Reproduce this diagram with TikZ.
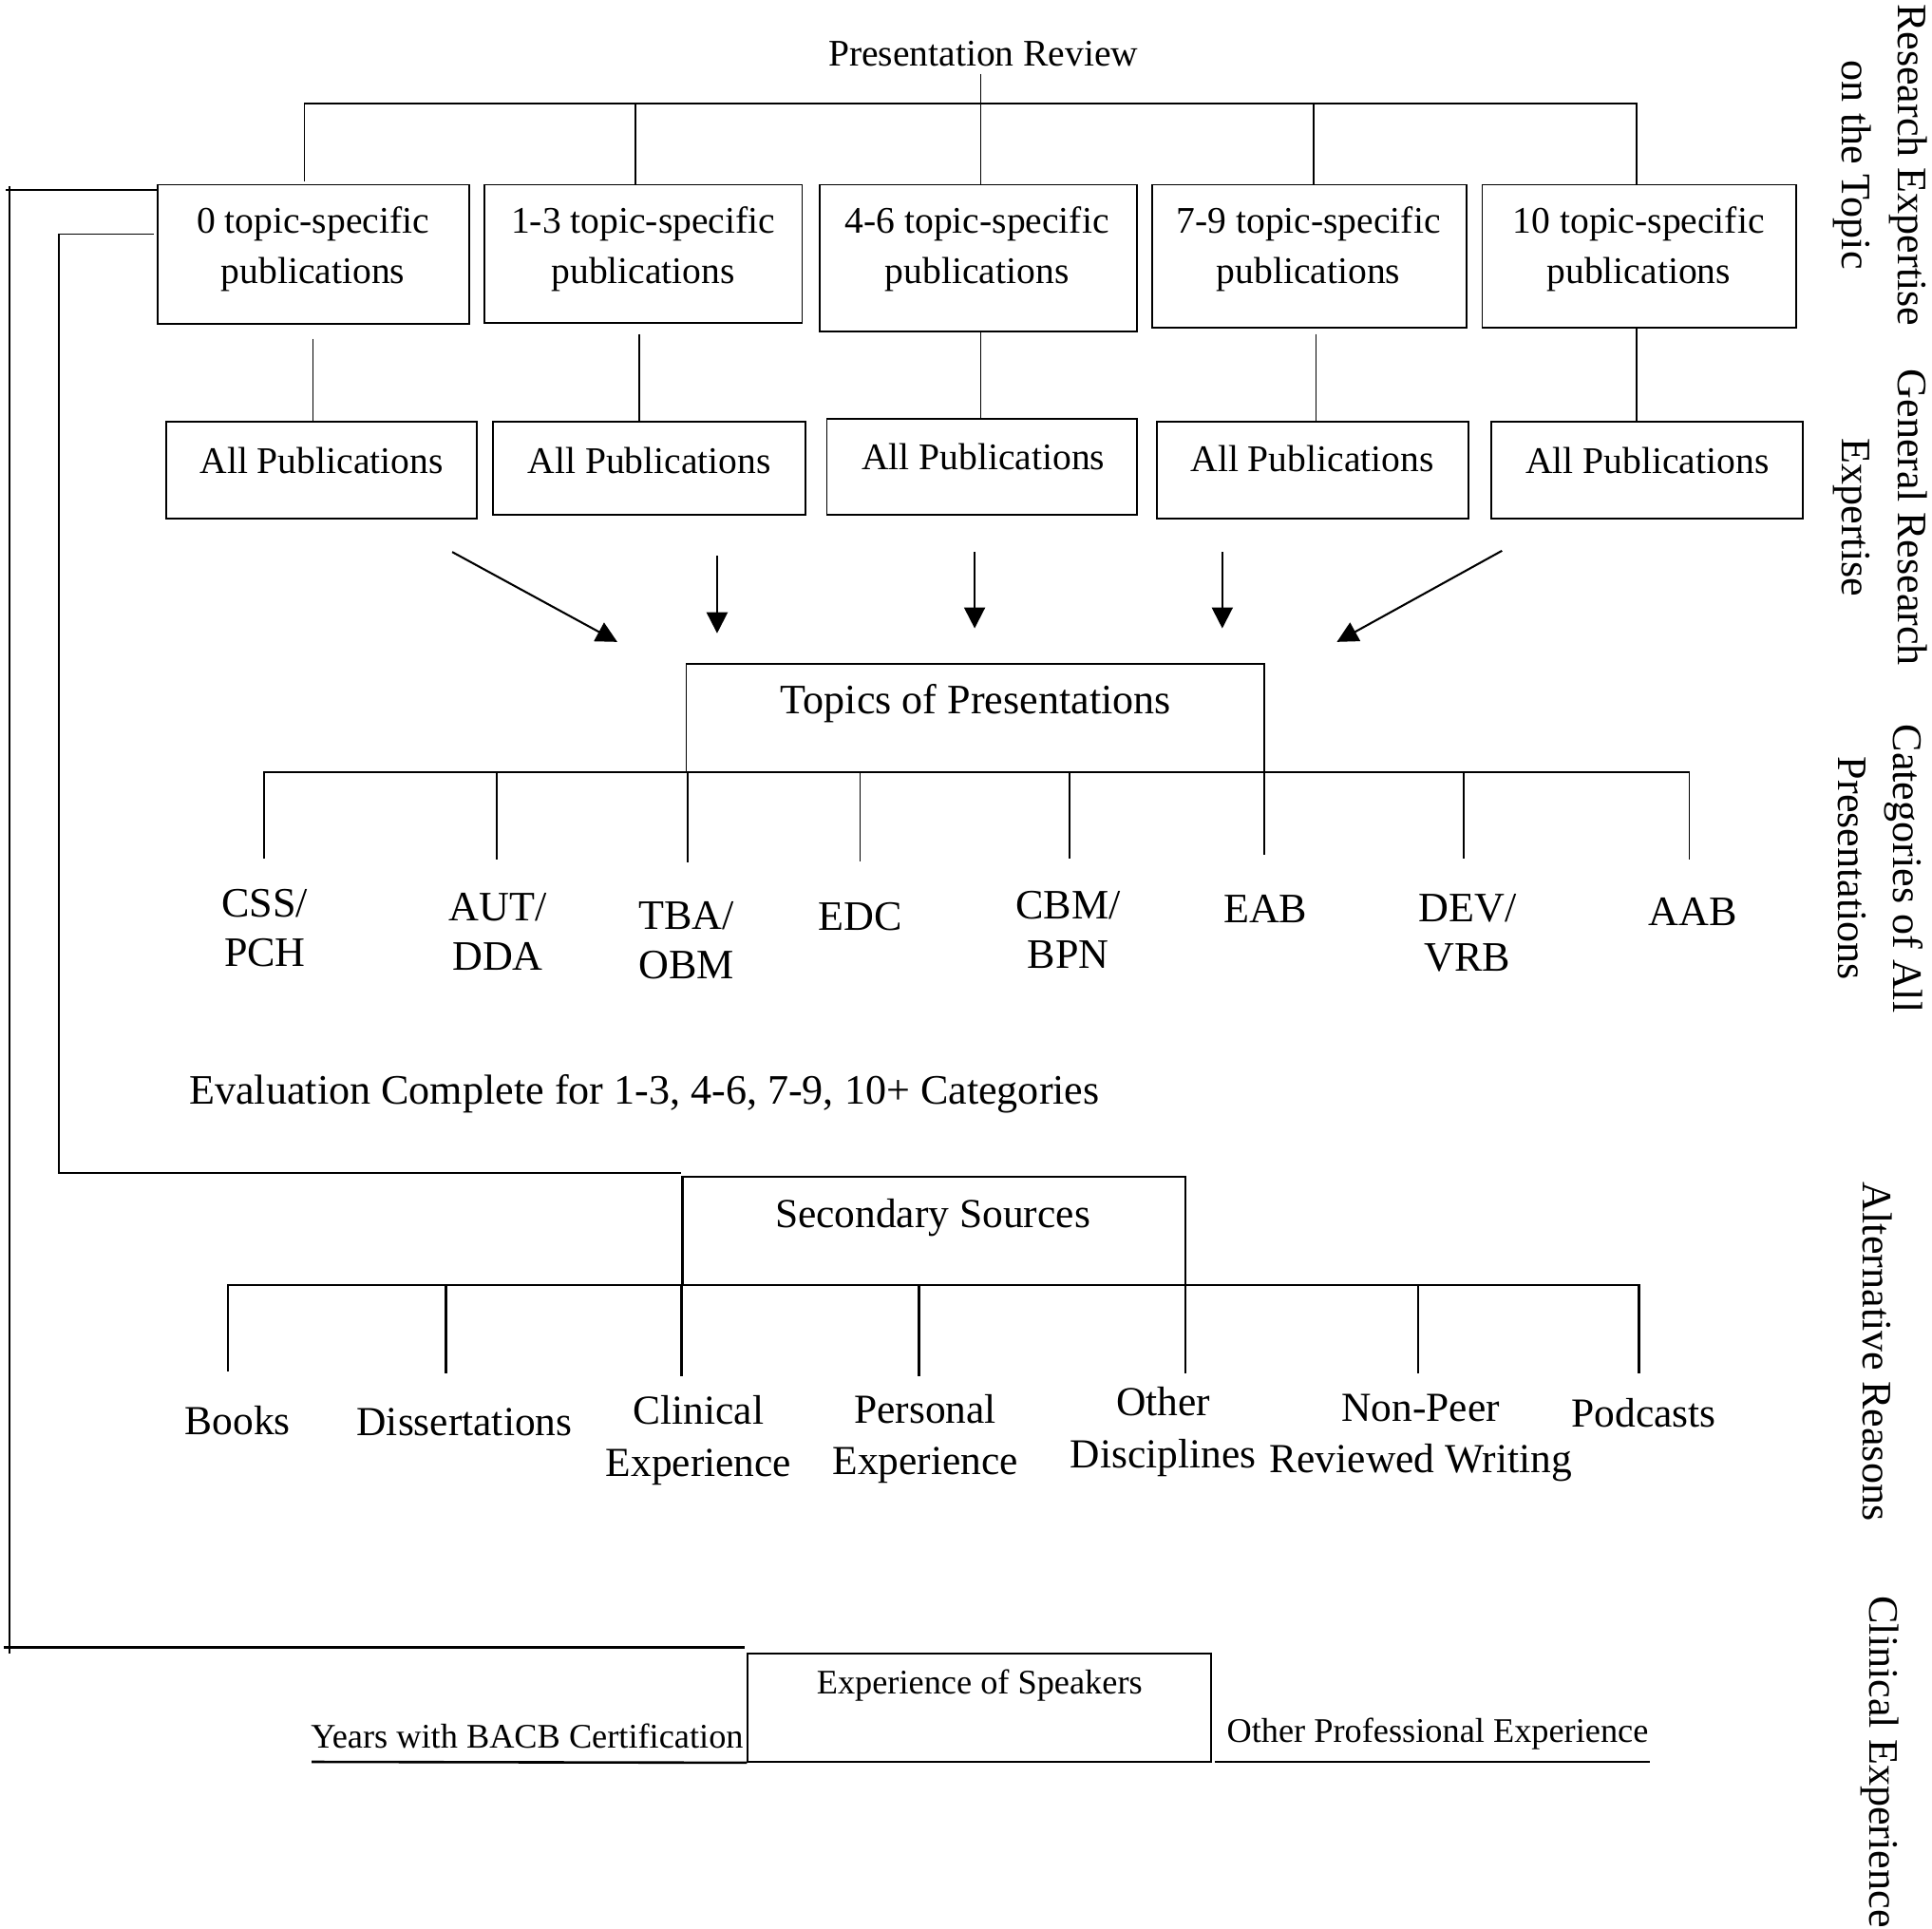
\documentclass[tikz,border=0pt]{standalone}
\usepackage{fontspec}
\setmainfont{Liberation Serif}
\usetikzlibrary{arrows.meta,fit}
\begin{document}
\begin{tikzpicture}[x=0.5pt,y=-0.5pt, line width=0.7pt,
  box/.style={draw, inner sep=0pt},
  fA/.style={font=\fontsize{15.25}{20.5}\selectfont, align=center, inner sep=0pt},
  fB/.style={font=\fontsize{17}{20}\selectfont, align=center, inner sep=0pt},
  fC/.style={font=\fontsize{16.75}{21}\selectfont, align=center, inner sep=0pt},
  fD/.style={font=\fontsize{14}{17}\selectfont, inner sep=0pt},
  side/.style={font=\fontsize{17}{22.5}\selectfont, align=center, rotate=-90, inner sep=0pt},
  arr/.style={line width=0.8pt, -{Triangle[length=8.5pt,width=8.5pt]}},
  thick2/.style={line width=1pt}]
\useasboundingbox (0,0) rectangle (1568,1565);

% title and first level
\node[fA] (title) at (798,44) {Presentation Review};
\node[box, fit={(128,150)(381,263)}] (t1) {};
\node[box, fit={(393,150)(651,262)}] (t2) {};
\node[box, fit={(665,150)(923,269)}] (t3) {};
\node[box, fit={(935,150)(1190,266)}] (t4) {};
\node[box, fit={(1203,150)(1458,266)}] (t5) {};
\node[fA] (t1t) at (254,202) {0 topic-specific\\publications};
\node[fA] (t2t) at (522,202) {1-3 topic-specific\\publications};
\node[fA] (t3t) at (793,202) {4-6 topic-specific\\publications};
\node[fA] (t4t) at (1062,202) {7-9 topic-specific\\publications};
\node[fA] (t5t) at (1330,202) {10 topic-specific\\publications};

% all publications
\node[box, fit={(135,342)(387,421)}] (a1) {};
\node[box, fit={(400,342)(654,418)}] (a2) {};
\node[box, fit={(671,340)(923,418)}] (a3) {};
\node[box, fit={(939,342)(1192,421)}] (a4) {};
\node[box, fit={(1210,342)(1463,421)}] (a5) {};
\node[fA] (a1t) at (261,374) {All Publications};
\node[fA] (a2t) at (527,374) {All Publications};
\node[fA] (a3t) at (798,371) {All Publications};
\node[fA] (a4t) at (1065,372) {All Publications};
\node[fA] (a5t) at (1337,374) {All Publications};

% tree from title
\draw (796,60) -- (796,0 |- t3.north);
\draw (247,147) -- (247,84) -- (1328,84) -- (1328,0 |- t5.north);
\draw (516,84) -- (516,0 |- t2.north);
\draw (1066,84) -- (1066,0 |- t4.north);

% first level to all publications
\draw (254,275) -- (254,0 |- a1.north);
\draw (519,271) -- (519,0 |- a2.north);
\draw (796,269) -- (796,0 |- a3.north);
\draw (1068,271) -- (1068,0 |- a4.north);
\draw (1328,0 |- t5.south) -- (1328,0 |- a5.north);

% arrows to topics
\coordinate (s1) at (367,448); \coordinate (e1) at (501,521);
\coordinate (s2) at (582,451); \coordinate (e2) at (582,514);
\coordinate (s3) at (791,448); \coordinate (e3) at (791,510);
\coordinate (s4) at (992,448); \coordinate (e4) at (992,510);
\coordinate (s5) at (1219,447); \coordinate (e5) at (1085,521);
\foreach \i in {1,...,5} {\draw[arr] (s\i) -- (e\i);}

% topics of presentations
\node[box, fit={(557,539)(1026,627)}] (top) {};
\node[fB] (topt) at (792,571) {Topics of Presentations};
\draw (214,697) -- (214,627) -- (1371,627) -- (1371,698);
\draw (403,627) -- (403,698);
\draw (558,627) -- (558,700);
\draw (698,627) -- (698,699);
\draw (868,627) -- (868,697);
\draw (1026,627) -- (1026,694);
\draw (1188,627) -- (1188,697);

\node[fB] (c1) at (215,753) {CSS/\\PCH};
\node[fB] (c2) at (404,756) {AUT/\\DDA};
\node[fB] (c3) at (557,763) {TBA/\\OBM};
\node[fB] (c4) at (698,744) {EDC};
\node[fB] (c5) at (867,755) {CBM/\\BPN};
\node[fB] (c6) at (1027,738) {EAB};
\node[fB] (c7) at (1191,757) {DEV/\\VRB};
\node[fB] (c8) at (1374,740) {AAB};

\node[fB, anchor=west] (evalc) at (153,888) {Evaluation Complete for 1-3, 4-6, 7-9, 10+ Categories};

% secondary sources
\node[box, thick2, fit={(554,955)(962,1043)}] (sec) {};
\node[fC] (sect) at (757,988) {Secondary Sources};
\draw[thick2] (185,1113) -- (185,1043) -- (1330,1043) -- (1330,1115);
\draw[thick2] (362,1043) -- (362,1115);
\draw[thick2] (553,1043) -- (553,1117);
\draw[thick2] (746,1043) -- (746,1117);
\draw[thick2] (962,1043) -- (962,1115);
\draw[thick2] (1151,1043) -- (1151,1115);

\node[fC] (b1) at (193,1153) {Books};
\node[fC] (b2) at (377,1154) {Dissertations};
\node[fC] (b3) at (567,1169) {Clinical\\Experience};
\node[fC] (b4) at (751,1168) {Personal\\Experience};
\node[fC] (b5) at (944,1162) {Other\\Disciplines};
\node[fC] (b6) at (1153,1167) {Non-Peer\\Reviewed Writing};
\node[fC] (b7) at (1334,1147) {Podcasts};

% feedback lines on the left
\draw (5,154) -- (t1.west |- 0,154);
\draw (8,151) -- (8,1342);
\draw[thick2] (3,1337) -- (604,1337);
\draw (125,190) -- (48,190) -- (48,952) -- (sec.north west |- 0,952);

% experience of speakers
\node[box, fit={(607,1342)(983,1430)}] (exp) {};
\node[fD] (expt) at (795,1368) {Experience of Speakers};
\node[fD, anchor=east] (yrs) at (604,1409) {Years with BACB Certification};
\node[fD, anchor=west] (oth) at (995,1407) {Other Professional Experience};
\draw[thick2] (253,1430) -- (exp.south west);
\draw[thick2] (986,1430) -- (1339,1430);

% side labels
\node[side] (r1) at (1526,134) {Research Expertise\\on the Topic};
\node[side] (r2) at (1526,420) {General Research\\Expertise};
\node[side] (r3) at (1526,705) {Categories of All\\Presentations};
\node[side] (r4) at (1524,1097) {Alternative Reasons};
\node[side] (r5) at (1526,1430) {Clinical Experience};
\end{tikzpicture}
\end{document}
